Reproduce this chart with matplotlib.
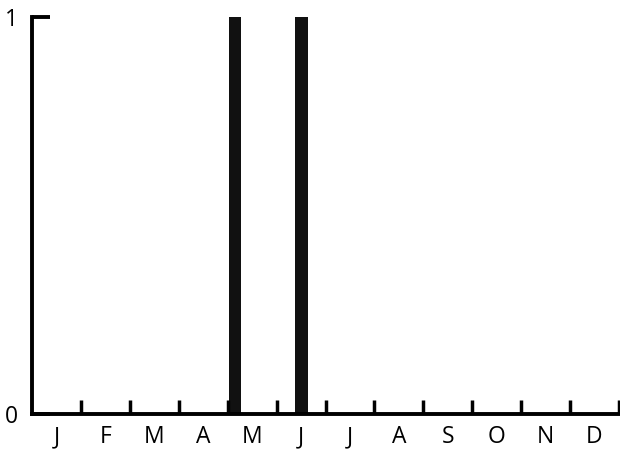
import matplotlib
matplotlib.use("Agg")
import matplotlib.pyplot as plt
import numpy as np

# datos: meses y barras (posición en meses desde el 1 de enero, altura)
meses = ["J", "F", "M", "A", "M", "J", "J", "A", "S", "O", "N", "D"]
barras_x = [4.15, 5.51]
barras_alto = [1, 1]
barras_ancho = 0.25

plt.rcParams["font.family"] = ["Open Sans", "DejaVu Sans"]

fig = plt.figure(figsize=(6.2, 4.49), dpi=100)
ax = fig.add_axes([32 / 620, 35 / 449, 587 / 620, 397 / 449])

ax.bar(barras_x, barras_alto, width=barras_ancho, color="#111111", align="center")

ax.set_xlim(0, 12)
ax.set_ylim(0, 1)

for lado in ["top", "right"]:
    ax.spines[lado].set_visible(False)
for lado in ["left", "bottom"]:
    ax.spines[lado].set_linewidth(2.8)
    ax.spines[lado].set_color("black")

# ticks de los límites de mes (hacia arriba) y etiquetas centradas
ax.set_xticks(np.arange(1, 13))
ax.set_xticklabels([])
ax.tick_params(axis="x", which="major", direction="in", length=10, width=2.5)
ax.set_xticks(np.arange(12) + 0.5, minor=True)
ax.set_xticklabels(meses, minor=True, fontsize=16.5)
ax.tick_params(axis="x", which="minor", length=0, pad=8)

ax.set_yticks([0, 1])
ax.set_yticklabels(["0", "1"], fontsize=16.5)
ax.tick_params(axis="y", direction="in", length=13, width=2.8, pad=10)

fig.savefig("out.png", dpi=100)
